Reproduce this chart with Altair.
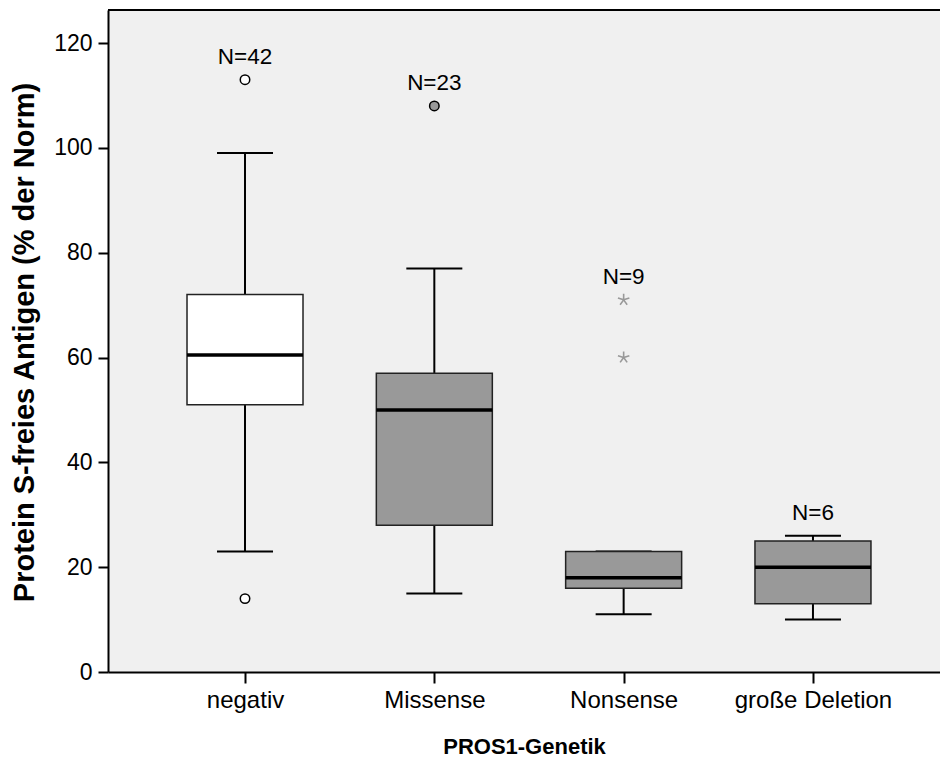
import altair as alt
import pandas as pd

# ---- data ----
categories = ["negativ", "Missense", "Nonsense", "große Deletion"]
positions = [1, 2, 3, 4]
q1 = [51, 28, 16, 13]
median = [60.5, 50, 18, 20]
q3 = [72, 57, 23, 25]
whisker_low = [23, 15, 11, 10]
whisker_high = [99, 77, 23, 26]
n_cases = [42, 23, 9, 6]
box_fill = ["#ffffff", "#999999", "#999999", "#999999"]

# outliers (circles) and extreme values (stars)
outlier_pos = [1, 1, 2]
outlier_val = [113, 14, 108]
outlier_fill = ["#ffffff", "#ffffff", "#999999"]
extreme_pos = [3, 3]
extreme_val = [71, 60]

FONT = "Liberation Sans"
W, H = 832, 662

boxes = pd.DataFrame({
    "pos": positions, "cat": categories, "q1": q1, "med": median, "q3": q3,
    "lo": whisker_low, "hi": whisker_high, "fill": box_fill,
    "label": [f"N={n}" for n in n_cases],
})
top_vals = []
for p, h in zip(positions, whisker_high):
    vals = [h] + [v for op, v in zip(outlier_pos, outlier_val) if op == p] \
        + [v for ep, v in zip(extreme_pos, extreme_val) if ep == p]
    top_vals.append(max(vals))
boxes["top"] = top_vals

outl = pd.DataFrame({"pos": outlier_pos, "val": outlier_val, "fill": outlier_fill})
extr = pd.DataFrame({"pos": extreme_pos, "val": extreme_val})

label_expr = "[" + ",".join(f"'{c}'" for c in categories) + "][datum.value-1]"

xscale = alt.Scale(domain=[0.2763, 4.671], nice=False, zero=False)
yscale = alt.Scale(domain=[0, 126.3], nice=False, zero=True)

x_enc = alt.X("pos:Q", scale=xscale,
              axis=alt.Axis(values=positions, labelExpr=label_expr, title="PROS1-Genetik",
                            grid=False, domainColor="black", domainWidth=2,
                            tickColor="black", tickWidth=2, tickSize=11,
                            labelFont=FONT, labelFontSize=24, labelColor="black",
                            labelPadding=5, labelFlush=False,
                            titleFont=FONT, titleFontSize=22, titleFontWeight="bold",
                            titleColor="black", titleBaseline="alphabetic", titleY=81))
y_axis = alt.Axis(values=[0, 20, 40, 60, 80, 100, 120], title="Protein S-freies Antigen (% der Norm)",
                  grid=False, domainColor="black", domainWidth=2,
                  tickColor="black", tickWidth=2, tickSize=10,
                  labelFont=FONT, labelFontSize=23, labelColor="black", labelPadding=6,
                  labelFlush=False,
                  titleFont=FONT, titleFontSize=29, titleFontWeight="bold", titleColor="black",
                  titleBaseline="middle", titleAlign="center", titleAngle=270,
                  titleX=-84, titleY=332)

base = alt.Chart(boxes)

whisk_low = base.mark_rule(color="black", strokeWidth=2).encode(
    x=x_enc, y=alt.Y("lo:Q", scale=yscale, axis=y_axis), y2="q1:Q")
whisk_high = base.mark_rule(color="black", strokeWidth=2).encode(
    x="pos:Q", y="q3:Q", y2="hi:Q")
cap_low = base.mark_rule(color="black", strokeWidth=2, xOffset=-28, x2Offset=28).encode(
    x="pos:Q", x2="pos:Q", y="lo:Q")
cap_high = base.mark_rule(color="black", strokeWidth=2, xOffset=-28, x2Offset=28).encode(
    x="pos:Q", x2="pos:Q", y="hi:Q")
box = base.mark_rect(stroke="#222222", strokeWidth=1.5, xOffset=-58, x2Offset=58).encode(
    x="pos:Q", x2="pos:Q", y="q1:Q", y2="q3:Q",
    fill=alt.Fill("fill:N", scale=None))
med = base.mark_rule(color="black", strokeWidth=3.5, xOffset=-58, x2Offset=58).encode(
    x="pos:Q", x2="pos:Q", y="med:Q")
nlab = base.mark_text(font=FONT, fontSize=22.5, color="black", baseline="middle", dy=-23).encode(
    x="pos:Q", y="top:Q", text="label:N")

outliers = alt.Chart(outl).mark_point(shape="circle", size=90, stroke="black",
                                       strokeWidth=1.5, filled=False, opacity=1).encode(
    x="pos:Q", y="val:Q", fill=alt.Fill("fill:N", scale=None))

star_path = ("M0,0L0,-1M0,0L0.951,-0.309M0,0L0.588,0.809"
             "M0,0L-0.588,0.809M0,0L-0.951,-0.309")
extremes = alt.Chart(extr).mark_point(shape=star_path, size=144, stroke="#999999",
                                       strokeWidth=1.6, filled=False, opacity=1).encode(
    x="pos:Q", y="val:Q")

top_border = alt.Chart(pd.DataFrame({"a": [0]})).mark_rule(color="black", strokeWidth=2).encode(
    x=alt.value(0), x2=alt.value(W), y=alt.value(0))

chart = alt.layer(
    whisk_low, whisk_high, cap_low, cap_high, box, med, outliers, extremes, nlab, top_border
).properties(
    width=W, height=H,
    autosize=alt.AutoSizeParams(type="none"),
    padding={"left": 108, "top": 10, "right": 0, "bottom": 86},
    background="white",
).configure_view(
    fill="#f0f0f0", stroke=None
)

chart.save("out.html", embed_options={"renderer": "svg", "actions": False})
